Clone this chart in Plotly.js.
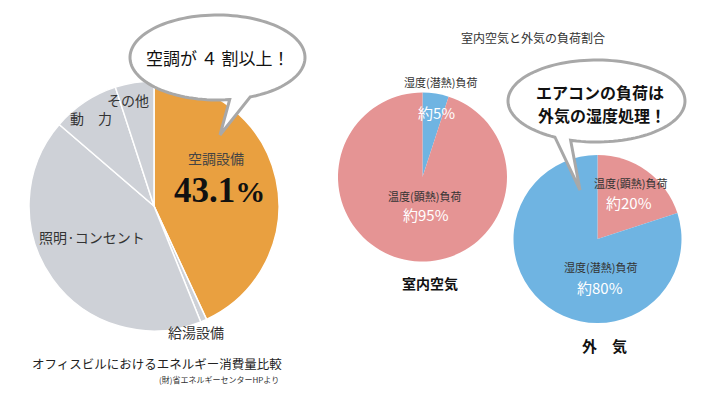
<!DOCTYPE html>
<html><head><meta charset="utf-8">
<script src="https://cdn.plot.ly/plotly-3.0.1.min.js"></script>
<style>html,body{margin:0;padding:0;background:#fff}</style>
</head><body><div id="chart" style="width:710px;height:393px"></div>
<script>
// ---- data ----
const officeLabels = ['空調設備', '給湯設備', '照明·コンセント', '動力', 'その他'];
const officeValues = [43.1, 0.8, 42.4, 8.7, 5.0];
const indoorLabels = ['湿度(潜熱)負荷', '温度(顕熱)負荷'];
const indoorValues = [5, 95];
const outdoorLabels = ['温度(顕熱)負荷', '湿度(潜熱)負荷'];
const outdoorValues = [20, 80];

const W = 710, H = 393;
const X = px => px / W;
const Y = py => 1 - py / H;
const FONT = '"Noto Sans CJK JP", "Noto Sans", sans-serif';
const ORANGE = '#E9A040', GREY = '#CED1D7', RED = '#E59494', BLUE = '#6FB4E2';

function dom(cx, cy, r) {
  return {x: [X(cx - r), X(cx + r)], y: [Y(cy + r), Y(cy - r)]};
}

const traces = [
  {type: 'pie', labels: officeLabels, values: officeValues, sort: false, direction: 'clockwise', rotation: 0,
   marker: {colors: [ORANGE, GREY, GREY, GREY, GREY], line: {color: '#ffffff', width: 1.5}},
   textinfo: 'none', hoverinfo: 'label+value', domain: dom(154, 206, 125), showlegend: false},
  {type: 'pie', labels: indoorLabels, values: indoorValues, sort: false, direction: 'clockwise', rotation: 0,
   marker: {colors: [BLUE, RED], line: {width: 0}},
   textinfo: 'none', hoverinfo: 'label+value', domain: dom(422.5, 177, 84.5), showlegend: false},
  {type: 'pie', labels: outdoorLabels, values: outdoorValues, sort: false, direction: 'clockwise', rotation: 0,
   marker: {colors: [RED, BLUE], line: {width: 0}},
   textinfo: 'none', hoverinfo: 'label+value', domain: dom(597.5, 239, 84), showlegend: false}
];

function bubblePath(cx, cy, rx, ry, t1, t2, tipx, tipy) {
  // go round the ellipse from t2 to t1+360 (degrees, y downward), then to the tip
  let d = '';
  const start = t2, end = t1 + 360;
  for (let t = start, i = 0; ; t += 3, i++) {
    if (t > end) t = end;
    const a = t * Math.PI / 180;
    const px = cx + rx * Math.cos(a), py = cy + ry * Math.sin(a);
    d += (i === 0 ? 'M' : 'L') + X(px).toFixed(5) + ',' + Y(py).toFixed(5) + ' ';
    if (t === end) break;
  }
  d += 'L' + X(tipx).toFixed(5) + ',' + Y(tipy).toFixed(5) + ' Z';
  return d;
}

const shapes = [
  {type: 'path', xref: 'paper', yref: 'paper', path: bubblePath(217.5, 57.5, 87.5, 42.5, 68, 82, 220, 135),
   fillcolor: '#ffffff', line: {color: '#A8A8A8', width: 3}, layer: 'above'},
  {type: 'path', xref: 'paper', yref: 'paper', path: bubblePath(596.5, 101, 88.5, 41, 107, 118, 580, 190),
   fillcolor: '#ffffff', line: {color: '#A8A8A8', width: 3}, layer: 'above'}
];

function ann(text, x, y, size, color, extra) {
  return Object.assign({text: text, x: X(x), y: Y(y), xref: 'paper', yref: 'paper', showarrow: false,
    xanchor: 'center', yanchor: 'middle', font: {family: FONT, size: size, color: color}}, extra || {});
}

const annotations = [
  ann('空調が ４ 割以上！', 218, 57, 17, '#111'),
  ann(officeLabels[0], 216, 158, 14, '#444'),
  ann('<b>' + officeValues[0] + '</b><b><span style="font-size:30px">%</span></b>', 220, 191, 35, '#111',
      {font: {family: '"Liberation Serif", "DejaVu Serif", serif', size: 35, color: '#111'}}),
  ann(officeLabels[4], 128, 100, 14, '#333'),
  ann('動　力', 91, 118, 14, '#333'),
  ann(officeLabels[2], 92, 237, 14, '#333'),
  ann(officeLabels[1], 196, 332, 14, '#333'),
  ann('オフィスビルにおけるエネルギー消費量比較', 157, 363, 12.5, '#222'),
  ann('(財)省エネルギーセンターHPより', 219, 379, 8, '#333'),
  ann('室内空気と外気の負荷割合', 533, 38, 12, '#333'),
  ann(indoorLabels[0], 441, 82, 11, '#333'),
  ann('約' + indoorValues[0] + '%', 437, 112, 15, '#ffffff'),
  ann(indoorLabels[1], 424, 196, 11, '#333'),
  ann('約' + indoorValues[1] + '%', 426, 214, 15, '#ffffff'),
  ann('<b>室内空気</b>', 430, 283, 14, '#111'),
  ann('エアコンの負荷は', 600, 92, 16, '#111', {borderpad: 0, font: {family: FONT, size: 16, color: '#111', weight: 'bold'}}),
  ann('外気の湿度処理！', 602, 115, 16, '#111', {borderpad: 0, font: {family: FONT, size: 16, color: '#111', weight: 'bold'}}),
  ann(outdoorLabels[0], 630, 183, 11, '#333'),
  ann('約' + outdoorValues[0] + '%', 629, 202, 15, '#ffffff'),
  ann(outdoorLabels[1], 600, 267, 11, '#333'),
  ann('約' + outdoorValues[1] + '%', 600, 287, 15, '#ffffff'),
  ann('<b>外　気</b>', 604, 345, 15, '#111')
];

const layout = {width: W, height: H, margin: {l: 0, r: 0, t: 0, b: 0}, paper_bgcolor: '#ffffff',
  showlegend: false, shapes: shapes, annotations: annotations};

Plotly.newPlot('chart', traces, layout, {staticPlot: true, displayModeBar: false});
</script>
</body></html>
